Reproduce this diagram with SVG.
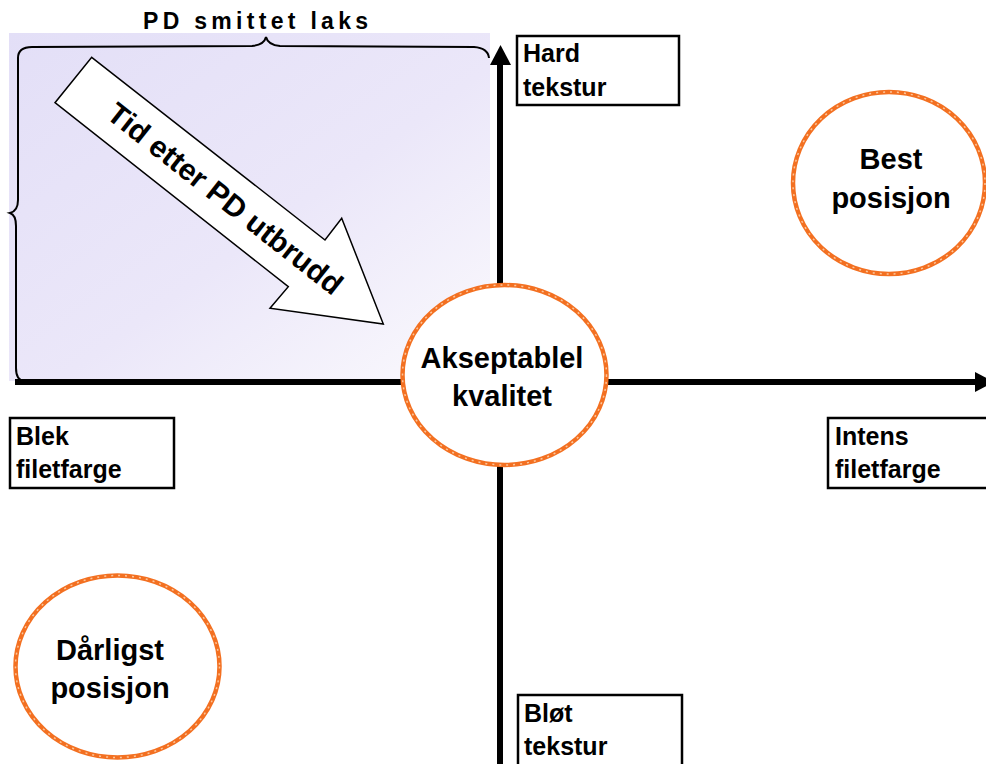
<svg xmlns="http://www.w3.org/2000/svg" width="986" height="764" viewBox="0 0 986 764">
<defs>
<linearGradient id="bg" x1="0" y1="0" x2="1" y2="1">
<stop offset="0" stop-color="#e3dff7"/>
<stop offset="0.55" stop-color="#ebe7f9"/>
<stop offset="1" stop-color="#fbfafd"/>
</linearGradient>
<style>
.lbl{font-family:"Liberation Sans",Arial,sans-serif;font-weight:bold;font-size:25px;fill:#000}
.big{font-family:"Liberation Sans",Arial,sans-serif;font-weight:bold;font-size:29px;fill:#000;text-anchor:middle}
.box{fill:#fff;stroke:#000;stroke-width:2.5}
.ring{fill:#fff;stroke:#f37021;stroke-width:4.5}
.tex{fill:none;stroke:#fcc59a;stroke-width:1.5;stroke-dasharray:2 5}
.axis{stroke:#000;stroke-width:6;fill:none}
.brace{fill:none;stroke:#000;stroke-width:2}
</style>
</defs>
<rect width="986" height="764" fill="#fff"/>
<rect id="region" x="9" y="33" width="481" height="348" fill="url(#bg)"/>
<g id="title"><text x="143" y="29" font-family="Liberation Sans,Arial,sans-serif" font-weight="bold" font-size="23" letter-spacing="4.3">PD smittet laks</text></g>
<g id="braces">
<path class="brace" d="M18,58 Q18,47 32,47 L252,46 Q264,45 266,37 Q268,45 280,46 L474,47 Q488,48 489,58"/>
<path class="brace" d="M18,58 L18,200 Q18,211 10,213 Q16,215 16,226 L16,368 Q16,380 24,381"/>
</g>
<g id="connectors">
<line class="axis" x1="15" y1="382" x2="977" y2="382"/>
<polygon points="975,372 975,392 994,382" fill="#000"/>
<line class="axis" x1="500" y1="63" x2="500" y2="764"/>
<polygon points="490,65 511,65 500.5,45" fill="#000"/>
</g>
<g id="time-arrow">
<polygon points="91.7,57.3 325,240 341.7,218.3 383.3,324 270,308.3 288.3,286.7 55,102.7" fill="#fff" stroke="#000" stroke-width="1.5"/>
<text transform="translate(225,199) rotate(38.2)" x="0" y="10" text-anchor="middle" font-family="Liberation Sans,Arial,sans-serif" font-weight="bold" font-size="30">Tid etter PD utbrudd</text>
</g>
<g id="hard">
<rect class="box" x="517" y="36" width="162" height="69"/>
<text class="lbl" x="523" y="62">Hard</text>
<text class="lbl" x="523" y="96">tekstur</text>
</g>
<g id="blek">
<rect class="box" x="10" y="418" width="164" height="70"/>
<text class="lbl" x="16" y="445">Blek</text>
<text class="lbl" x="16" y="478">filetfarge</text>
</g>
<g id="intens">
<rect class="box" x="828" y="418" width="170" height="70"/>
<text class="lbl" x="835" y="445">Intens</text>
<text class="lbl" x="835" y="478">filetfarge</text>
</g>
<g id="blot">
<rect class="box" x="518" y="695" width="164" height="80"/>
<text class="lbl" x="524" y="722">Bløt</text>
<text class="lbl" x="524" y="755">tekstur</text>
</g>
<g id="akseptabel">
<ellipse class="ring" cx="504.5" cy="375" rx="102" ry="90"/>
<ellipse class="tex" cx="504.5" cy="375" rx="102" ry="90"/>
<text class="big" x="502" y="368">Akseptablel</text>
<text class="big" x="502" y="406">kvalitet</text>
</g>
<g id="best">
<ellipse class="ring" cx="889" cy="183" rx="96" ry="91"/>
<ellipse class="tex" cx="889" cy="183" rx="96" ry="91"/>
<text class="big" x="891" y="169">Best</text>
<text class="big" x="891" y="208">posisjon</text>
</g>
<g id="darligst">
<ellipse class="ring" cx="117.5" cy="666.5" rx="102" ry="91"/>
<ellipse class="tex" cx="117.5" cy="666.5" rx="102" ry="91"/>
<text class="big" x="110" y="660">Dårligst</text>
<text class="big" x="110" y="698">posisjon</text>
</g>
</svg>
